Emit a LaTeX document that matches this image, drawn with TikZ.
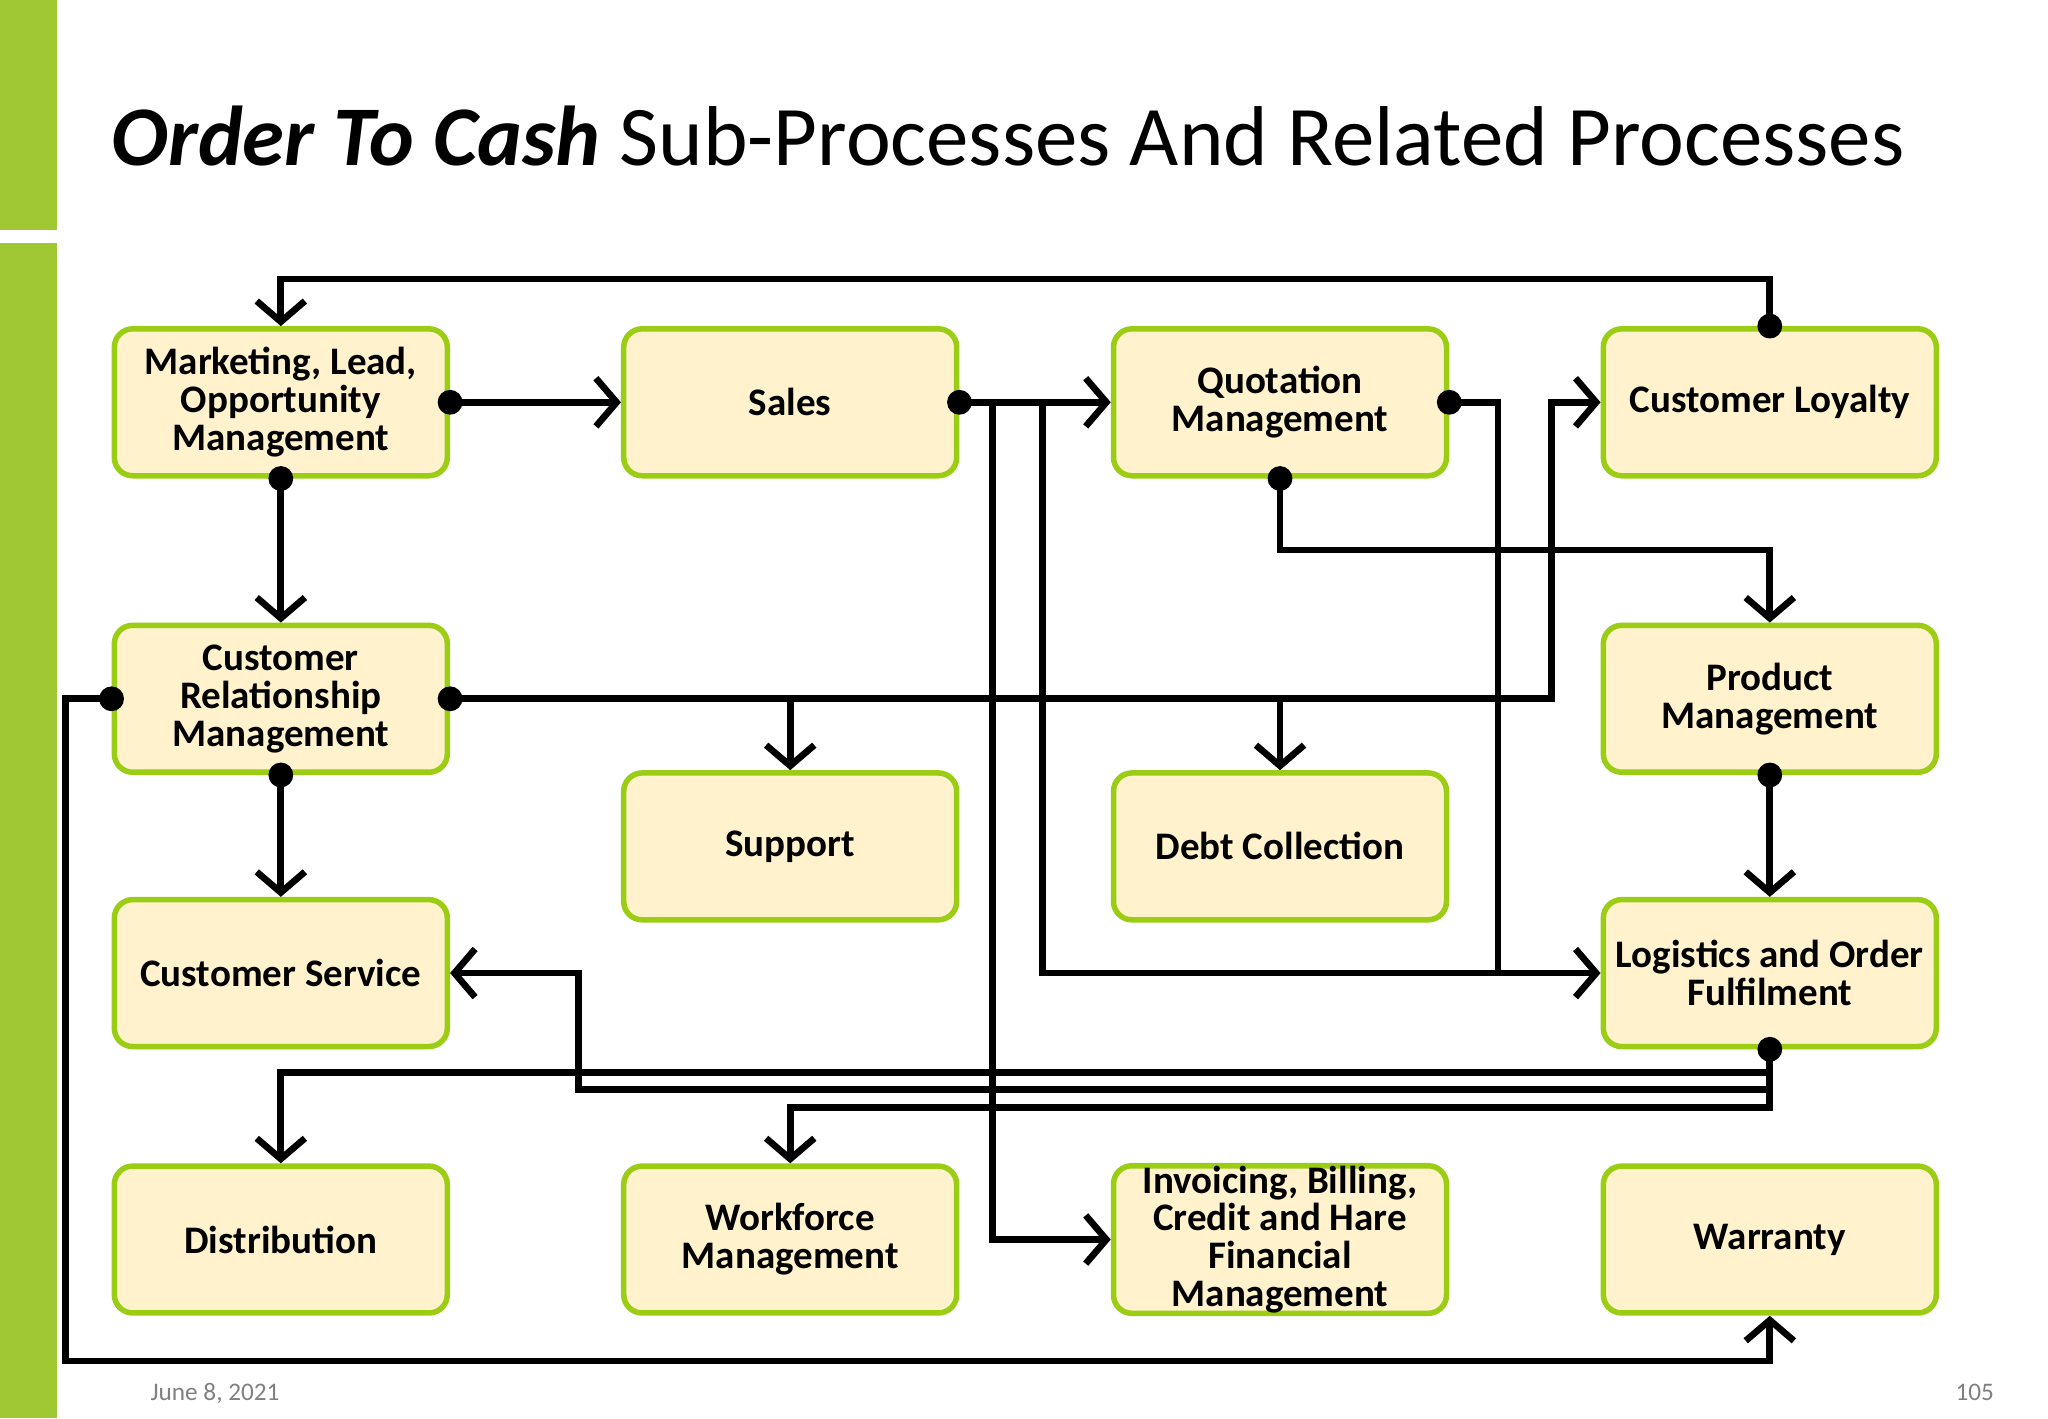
\documentclass[tikz,border=0pt]{standalone}
\usepackage{fontspec}
\setmainfont{Carlito}
\usetikzlibrary{arrows.meta}
\definecolor{barGreen}{RGB}{160,200,50}
\definecolor{boxGreen}{RGB}{155,205,20}
\definecolor{boxFill}{RGB}{255,242,204}
\begin{document}
\begin{tikzpicture}[x=0.02cm,y=-0.02cm,
  box/.style={draw=boxGreen,fill=boxFill,line width=2.4pt,rounded corners=8pt,
    minimum width=5.1cm,minimum height=2.25cm,inner sep=0pt,align=center,
    font=\fontsize{17}{16.5}\selectfont\bfseries},
  link/.style={line width=2.9pt},
  arr/.style={link,-{Straight Barb[length=9pt,width=21pt,line width=2.9pt]}},
  dot/.style={fill=black}]
% page frame and side bar
\useasboundingbox (0,0) rectangle (1568,1086);
\fill[barGreen] (0,0) rectangle (44,176);
\fill[barGreen] (0,186) rectangle (44,1086);

% title and footer
\node[anchor=base west,inner sep=0pt,font=\fontsize{37}{37}\selectfont] (title) at (85,127)
  {\textbf{\textit{Order To Cash}} Sub-Processes And Related Processes};
\node[anchor=base west,inner sep=0pt,text=gray,font=\fontsize{11}{11}\selectfont] (date) at (115,1072) {June 8, 2021};
\node[anchor=base east,inner sep=0pt,text=gray,font=\fontsize{11}{11}\selectfont] (page) at (1527,1072) {105};

% the processes
\node[box] (mkt) at (215,308) {Marketing, Lead,\\Opportunity\\Management};
\node[box] (sal) at (605,308) {Sales};
\node[box] (quo) at (980,308) {Quotation\\Management};
\node[box] (loy) at (1355,308) {Customer Loyalty};
\node[box] (crm) at (215,535) {Customer\\Relationship\\Management};
\node[box] (prd) at (1355,535) {Product\\Management};
\node[box] (sup) at (605,648) {Support};
\node[box] (dbt) at (980,648) {Debt Collection};
\node[box] (csv) at (215,745) {Customer Service};
\node[box] (log) at (1355,745) {Logistics and Order\\Fulfilment};
\node[box] (dis) at (215,949) {Distribution};
\node[box] (wfm) at (605,949) {Workforce\\Management};
\node[box] (inv) at (980,949) {Invoicing, Billing,\\Credit and Hare\\Financial\\Management};
\node[box] (war) at (1355,949) {Warranty};

% connectors
\draw[arr] (loy.north) -- ++(0,-36) -| (mkt.north);
\draw[arr] (mkt.east) -- (sal.west);
\draw[arr] (sal.east) -- (quo.west);
\draw[arr] (sal.east) -| (760,949) -- (inv.west);
\draw[arr] (sal.east) -| (798,745) -- (log.west);
\draw[link] (quo.east) -| (1147,745);
\draw[arr] (quo.south) |- (1355,421) -- (prd.north);
\draw[arr] (mkt.south) -- (crm.north);
\draw[arr] (crm.east) -| (1188,308) -- (loy.west);
\draw[arr] (605,535) -- (sup.north);
\draw[arr] (980,535) -- (dbt.north);
\draw[arr] (crm.west) -| (50,1042) -| (war.south);
\draw[arr] (crm.south) -- (csv.north);
\draw[arr] (prd.south) -- (log.north);
\draw[arr] (log.south) |- (215,821) -- (dis.north);
\draw[arr] (log.south) |- (443,834) |- (csv.east);
\draw[arr] (log.south) |- (605,848) -- (wfm.north);

% dots at the sources
\foreach \p in {loy.north,mkt.east,mkt.south,sal.east,quo.east,quo.south,
  crm.east,crm.west,crm.south,prd.south,log.south}
  \fill[dot] (\p) circle[radius=0.19cm];
\end{tikzpicture}
\end{document}
